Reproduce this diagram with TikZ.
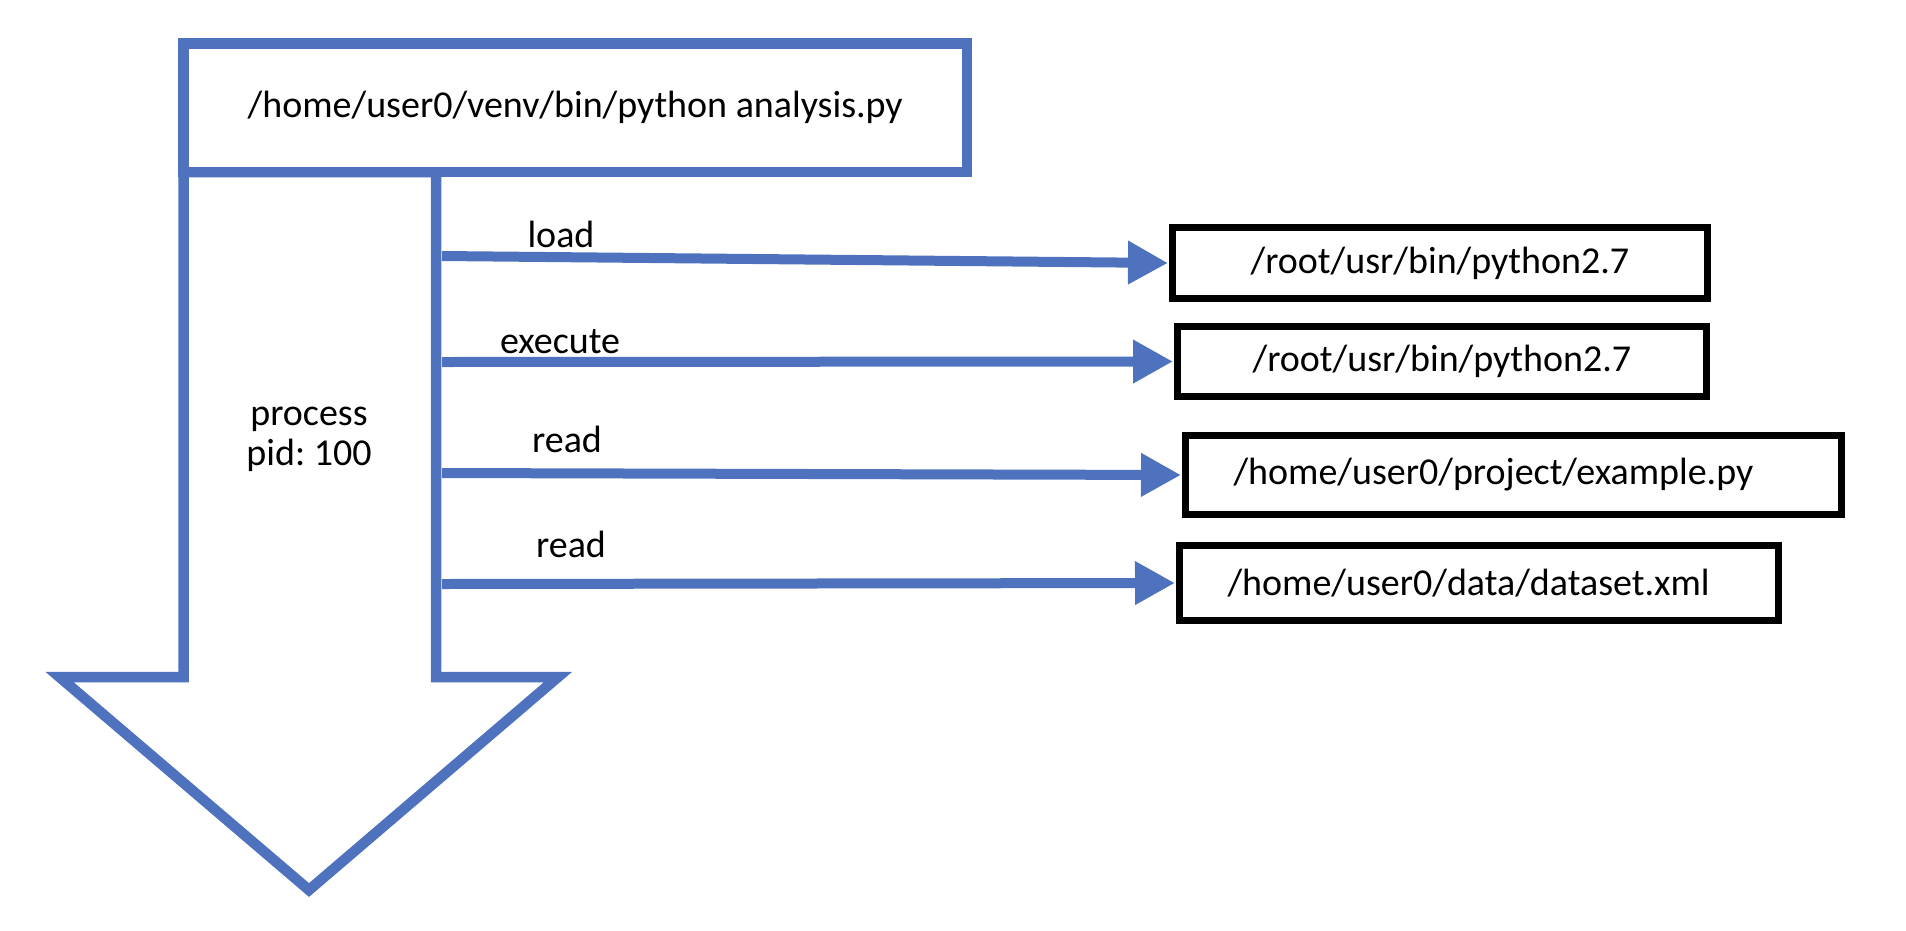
\documentclass[tikz,border=0pt]{standalone}
\usepackage{fontspec}
\setmainfont{Carlito}
\usetikzlibrary{arrows.meta,positioning}
\definecolor{flowblue}{RGB}{78,114,190}
\tikzset{
  cmdbox/.style={draw=flowblue,line width=10.5pt,fill=white,inner sep=0pt,
    minimum width=783.5pt,minimum height=128.5pt},
  filebox/.style={draw=black,line width=7pt,fill=white,inner sep=0pt},
  fileleft/.style={filebox,align=left,inner xsep=48pt},
  flow/.style={draw=flowblue,line width=10pt,-{Triangle[length=40pt,width=41pt]},shorten >=1pt},
  lbl/.style={anchor=base,inner sep=0pt},
  procarrow/.style={draw=flowblue,line width=10.5pt,fill=white,line join=miter},
}

\begin{document}
\begin{tikzpicture}[x=1pt,y=-1pt,font=\fontsize{38}{40}\selectfont\frenchspacing]
  \useasboundingbox (0,0) rectangle (1906,930);
  \draw[procarrow] (183.5,172) -- (183.5,677) -- (59.5,677) -- (309,890)
    -- (558,677) -- (436,677) -- (436,172) -- cycle;
  \node[cmdbox] (cmd) at (575.25,107.75) {/home/user0/venv/bin/python analysis.py};
  \node[lbl,align=center] (proc) at (309,465) {process\\pid: 100};

  \node[filebox,minimum width=535pt,minimum height=71pt] (bin1) at (1440,263) {/root/usr/bin/python2.7};
  \node[filebox,minimum width=529pt,minimum height=70pt] (bin2) at (1442,361.5) {/root/usr/bin/python2.7};
  \node[fileleft,minimum width=656pt,minimum height=79pt,text width=560pt] (src) at (1513.5,475) {/home/user0/project/example.py};
  \node[fileleft,minimum width=599pt,minimum height=75pt,text width=503pt] (data) at (1479,583) {/home/user0/data/dataset.xml};

  \coordinate (s1) at (442,256);
  \coordinate (s2) at (442,362);
  \coordinate (s3) at (442,473);
  \coordinate (s4) at (442,584);
  \draw[flow] (s1) -- (bin1.west);
  \draw[flow] (s2) -- (bin2.west);
  \draw[flow] (s3) -- (src.west);
  \draw[flow] (s4) -- (data.west);
  \node[lbl] (lload) at (561,247) {load};
  \node[lbl] (lexec) at (560,353) {execute};
  \node[lbl] (lread1) at (567,452) {read};
  \node[lbl] (lread2) at (571,557) {read};
\end{tikzpicture}
\end{document}
